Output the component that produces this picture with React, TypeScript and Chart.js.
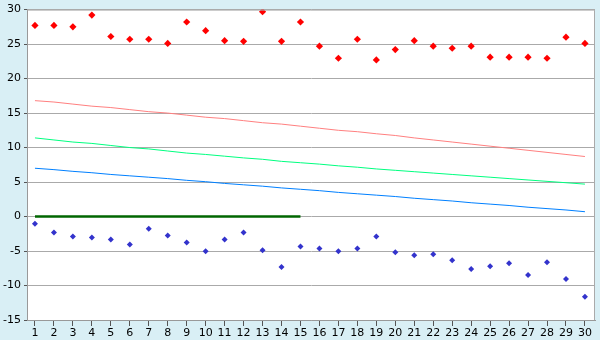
import React, { useEffect, useRef } from "react";
import { Chart, registerables } from "chart.js";

Chart.register(...registerables);

const categories = Array.from({ length: 30 }, (_, i) => i + 1);

const highPoints = [27.7, 27.7, 27.5, 29.2, 26.1, 25.7, 25.7, 25.1, 28.2, 26.95,
  25.5, 25.4, 29.7, 25.4, 28.2, 24.7, 22.95, 25.7, 22.7, 24.2,
  25.5, 24.7, 24.4, 24.7, 23.1, 23.1, 23.1, 22.95, 26.0, 25.1];

const lowPoints = [-1.05, -2.33, -2.9, -3.05, -3.33, -4.05, -1.76, -2.76, -3.76, -5.05,
  -3.33, -2.33, -4.9, -7.33, -4.33, -4.62, -5.05, -4.62, -2.9, -5.19,
  -5.62, -5.48, -6.33, -7.62, -7.19, -6.76, -8.48, -6.62, -9.05, -11.62];

const pinkLine = [16.8, 16.6, 16.3, 16.0, 15.8, 15.5, 15.2, 15.0, 14.7, 14.4,
  14.2, 13.9, 13.6, 13.4, 13.1, 12.8, 12.5, 12.3, 12.0, 11.75,
  11.4, 11.1, 10.8, 10.5, 10.2, 9.9, 9.6, 9.3, 9.0, 8.7];

const greenLine = [11.4, 11.1, 10.8, 10.6, 10.3, 10.0, 9.8, 9.5, 9.2, 9.0,
  8.75, 8.5, 8.3, 8.0, 7.8, 7.6, 7.35, 7.15, 6.9, 6.7,
  6.5, 6.3, 6.1, 5.9, 5.7, 5.5, 5.3, 5.1, 4.9, 4.7];

const blueLine = [7.0, 6.8, 6.55, 6.35, 6.1, 5.9, 5.7, 5.5, 5.25, 5.05,
  4.8, 4.6, 4.4, 4.15, 3.95, 3.75, 3.5, 3.3, 3.1, 2.9,
  2.65, 2.45, 2.25, 2.0, 1.8, 1.6, 1.35, 1.15, 0.95, 0.7];

const zeroLine = [0, 0, 0, 0, 0, 0, 0, 0, 0, 0, 0, 0, 0, 0, 0];

const yTicks = [-15, -10, -5, 0, 5, 10, 15, 20, 25, 30];

const toXY = (vals: number[]) => vals.map((v, i) => ({ x: categories[i], y: v }));

const plotBg = {
  id: "plotBg",
  beforeDraw(chart: any) {
    const { ctx, chartArea } = chart;
    ctx.save();
    ctx.fillStyle = "#d9eff5";
    ctx.fillRect(0, 0, chart.width, chart.height);
    ctx.fillStyle = "#ffffff";
    ctx.fillRect(chartArea.left, chartArea.top, chartArea.right - chartArea.left, chartArea.bottom - chartArea.top);
    ctx.restore();
  },
  afterDatasetsDraw(chart: any) {
    const { ctx, chartArea } = chart;
    ctx.save();
    ctx.strokeStyle = "#aaaaaa";
    ctx.lineWidth = 1;
    ctx.beginPath();
    ctx.moveTo(chartArea.left, chartArea.top + 0.5);
    ctx.lineTo(chartArea.right - 0.5, chartArea.top + 0.5);
    ctx.lineTo(chartArea.right - 0.5, chartArea.bottom);
    ctx.stroke();
    ctx.restore();
  },
};

export default function App() {
  const ref = useRef<HTMLCanvasElement>(null);
  useEffect(() => {
    document.body.style.margin = "0";
    const font = { family: "DejaVu Sans", size: 11 };
    const chart = new Chart(ref.current!, {
      type: "line",
      data: {
        datasets: [
          { data: toXY(highPoints), showLine: false, pointStyle: "rectRot", pointRadius: 3.6, backgroundColor: "#ff0000", borderColor: "#ff0000", borderWidth: 0 },
          { data: toXY(lowPoints), showLine: false, pointStyle: "rectRot", pointRadius: 3, backgroundColor: "#3333cc", borderColor: "#3333cc", borderWidth: 0 },
          { data: toXY(pinkLine), borderColor: "#ff8080", borderWidth: 1, pointRadius: 0, tension: 0 },
          { data: toXY(greenLine), borderColor: "#00ff80", borderWidth: 1, pointRadius: 0, tension: 0 },
          { data: toXY(blueLine), borderColor: "#0080ff", borderWidth: 1, pointRadius: 0, tension: 0 },
          { data: toXY(zeroLine), borderColor: "#006600", borderWidth: 2.5, pointRadius: 0, tension: 0 },
        ],
      },
      options: {
        animation: false,
        responsive: false,
        maintainAspectRatio: false,
        layout: { padding: { top: 5, right: 5, left: 0, bottom: 0 } },
        plugins: { legend: { display: false }, tooltip: { enabled: false } },
        scales: {
          x: {
            type: "linear",
            min: 0.58,
            max: 30.53,
            afterBuildTicks: (axis: any) => { axis.ticks = categories.map((v) => ({ value: v })); },
            afterFit: (axis: any) => { axis.height = 20; },
            grid: { drawOnChartArea: false, drawTicks: true, tickLength: 6, tickColor: "#555555" },
            border: { color: "#999999" },
            ticks: { autoSkip: false, maxRotation: 0, color: "#000000", font, padding: 1 },
          },
          y: {
            min: -15,
            max: 30,
            afterBuildTicks: (axis: any) => { axis.ticks = yTicks.map((v) => ({ value: v })); },
            afterFit: (axis: any) => { axis.width = 27; },
            grid: { color: "#aaaaaa", tickLength: 3, tickColor: "#555555" },
            border: { color: "#999999" },
            ticks: { color: "#000000", font, padding: 3 },
          },
        },
      },
      plugins: [plotBg],
    });
    return () => chart.destroy();
  }, []);
  return <canvas ref={ref} width={600} height={340} style={{ display: "block" }} />;
}
